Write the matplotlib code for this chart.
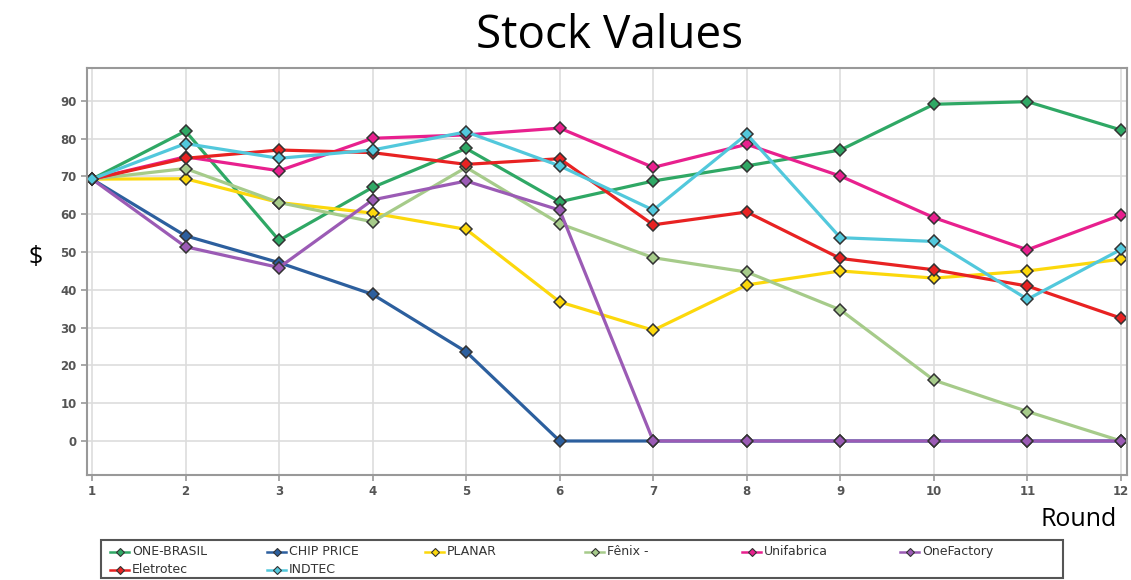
import matplotlib
matplotlib.use("Agg")
import matplotlib.pyplot as plt
from matplotlib.lines import Line2D
from matplotlib.patches import Rectangle

rounds = [1, 2, 3, 4, 5, 6, 7, 8, 9, 10, 11, 12]
one_brasil = [69.3, 82.0, 53.1, 67.1, 77.4, 63.3, 68.8, 72.8, 77.0, 89.1, 89.8, 82.3]
chip_price = [69.3, 54.3, 47.2, 38.8, 23.6, 0, 0, 0, 0, 0, 0, 0]
planar = [69.3, 69.4, 63.1, 60.3, 56.0, 36.8, 29.3, 41.3, 45.0, 43.1, 45.0, 48.1]
fenix = [69.3, 72.1, 63.1, 58.0, 72.4, 57.5, 48.5, 44.7, 34.7, 16.1, 7.8, 0]
unifabrica = [69.3, 75.2, 71.5, 80.1, 81.0, 82.8, 72.4, 78.5, 70.1, 59.1, 50.6, 59.8]
onefactory = [69.3, 51.4, 45.9, 63.8, 68.8, 61.1, 0, 0, 0, 0, 0, 0]
eletrotec = [69.3, 74.8, 77.0, 76.3, 73.2, 74.7, 57.2, 60.6, 48.3, 45.3, 41.0, 32.5]
indtec = [69.3, 78.7, 74.8, 77.0, 81.8, 72.8, 61.1, 81.2, 53.8, 52.8, 37.5, 50.7]

names = ["ONE-BRASIL", "CHIP PRICE", "PLANAR", "Fênix -", "Unifabrica",
         "OneFactory", "Eletrotec", "INDTEC"]
series = [one_brasil, chip_price, planar, fenix, unifabrica, onefactory,
          eletrotec, indtec]
colors = ["#2fa865", "#2c5f9e", "#fcd80c", "#a6cb8a", "#e8208e",
          "#9b5bb5", "#e82222", "#52c8dc"]
yticks = [0, 10, 20, 30, 40, 50, 60, 70, 80, 90]

W, H = 1131, 580
fig = plt.figure(figsize=(W / 100, H / 100), dpi=100)
ax = fig.add_axes([87 / W, 1 - 475 / H, (1127 - 87) / W, (475 - 68) / H])

for name, vals, c in zip(names, series, colors):
    ax.plot(rounds, vals, color=c, lw=2.3, marker="D", markersize=6.3,
            markerfacecolor=c, markeredgecolor="#333333", markeredgewidth=1.1,
            label=name, solid_joinstyle="round")

ax.set_xlim(0.947, 12.064)
ax.set_ylim(-9, 98.7)
ax.set_xticks(rounds)
ax.set_yticks(yticks)
ax.grid(True, color="#dddddd", lw=1.2)
ax.set_axisbelow(True)
for s in ax.spines.values():
    s.set_color("#999999")
    s.set_linewidth(1.5)
ax.tick_params(axis="both", colors="#999999", length=4, width=1.2,
               labelsize=8.5, labelcolor="#555555")
for lab in ax.get_xticklabels() + ax.get_yticklabels():
    lab.set_fontweight("bold")

fig.text(610 / W, 1 - 36 / H, "Stock Values", ha="center", va="center",
         fontsize=33, family="Open Sans")
fig.text(36 / W, 1 - 258 / H, "$", ha="center", va="center",
         fontsize=18, family="Open Sans")
fig.text(1079 / W, 1 - 520 / H, "Round", ha="center", va="center",
         fontsize=18, family="Open Sans")

# manual legend box (row-wise, fixed column slots)
fig.patches.append(Rectangle((101 / W, 1 - 578 / H), (1063 - 101) / W, (578 - 540) / H,
                             transform=fig.transFigure, fill=False,
                             edgecolor="#555555", lw=1.5))
col_x = [110, 267, 425, 585, 742, 900]
row_y = [551.5, 569.5]
for i, (name, c) in enumerate(zip(names, colors)):
    r, k = divmod(i, 6)
    x0 = col_x[k]
    y = 1 - row_y[r] / H
    fig.lines.append(Line2D([x0 / W, (x0 + 19) / W], [y, y], transform=fig.transFigure,
                            color=c, lw=1.8))
    fig.lines.append(Line2D([(x0 + 9.5) / W], [y], transform=fig.transFigure,
                            color=c, marker="D", markersize=4,
                            markeredgecolor="#333333", markeredgewidth=0.8))
    fig.text((x0 + 22) / W, y, name, ha="left", va="center", fontsize=9,
             color="#333333")

fig.savefig("out.png", dpi=100)
